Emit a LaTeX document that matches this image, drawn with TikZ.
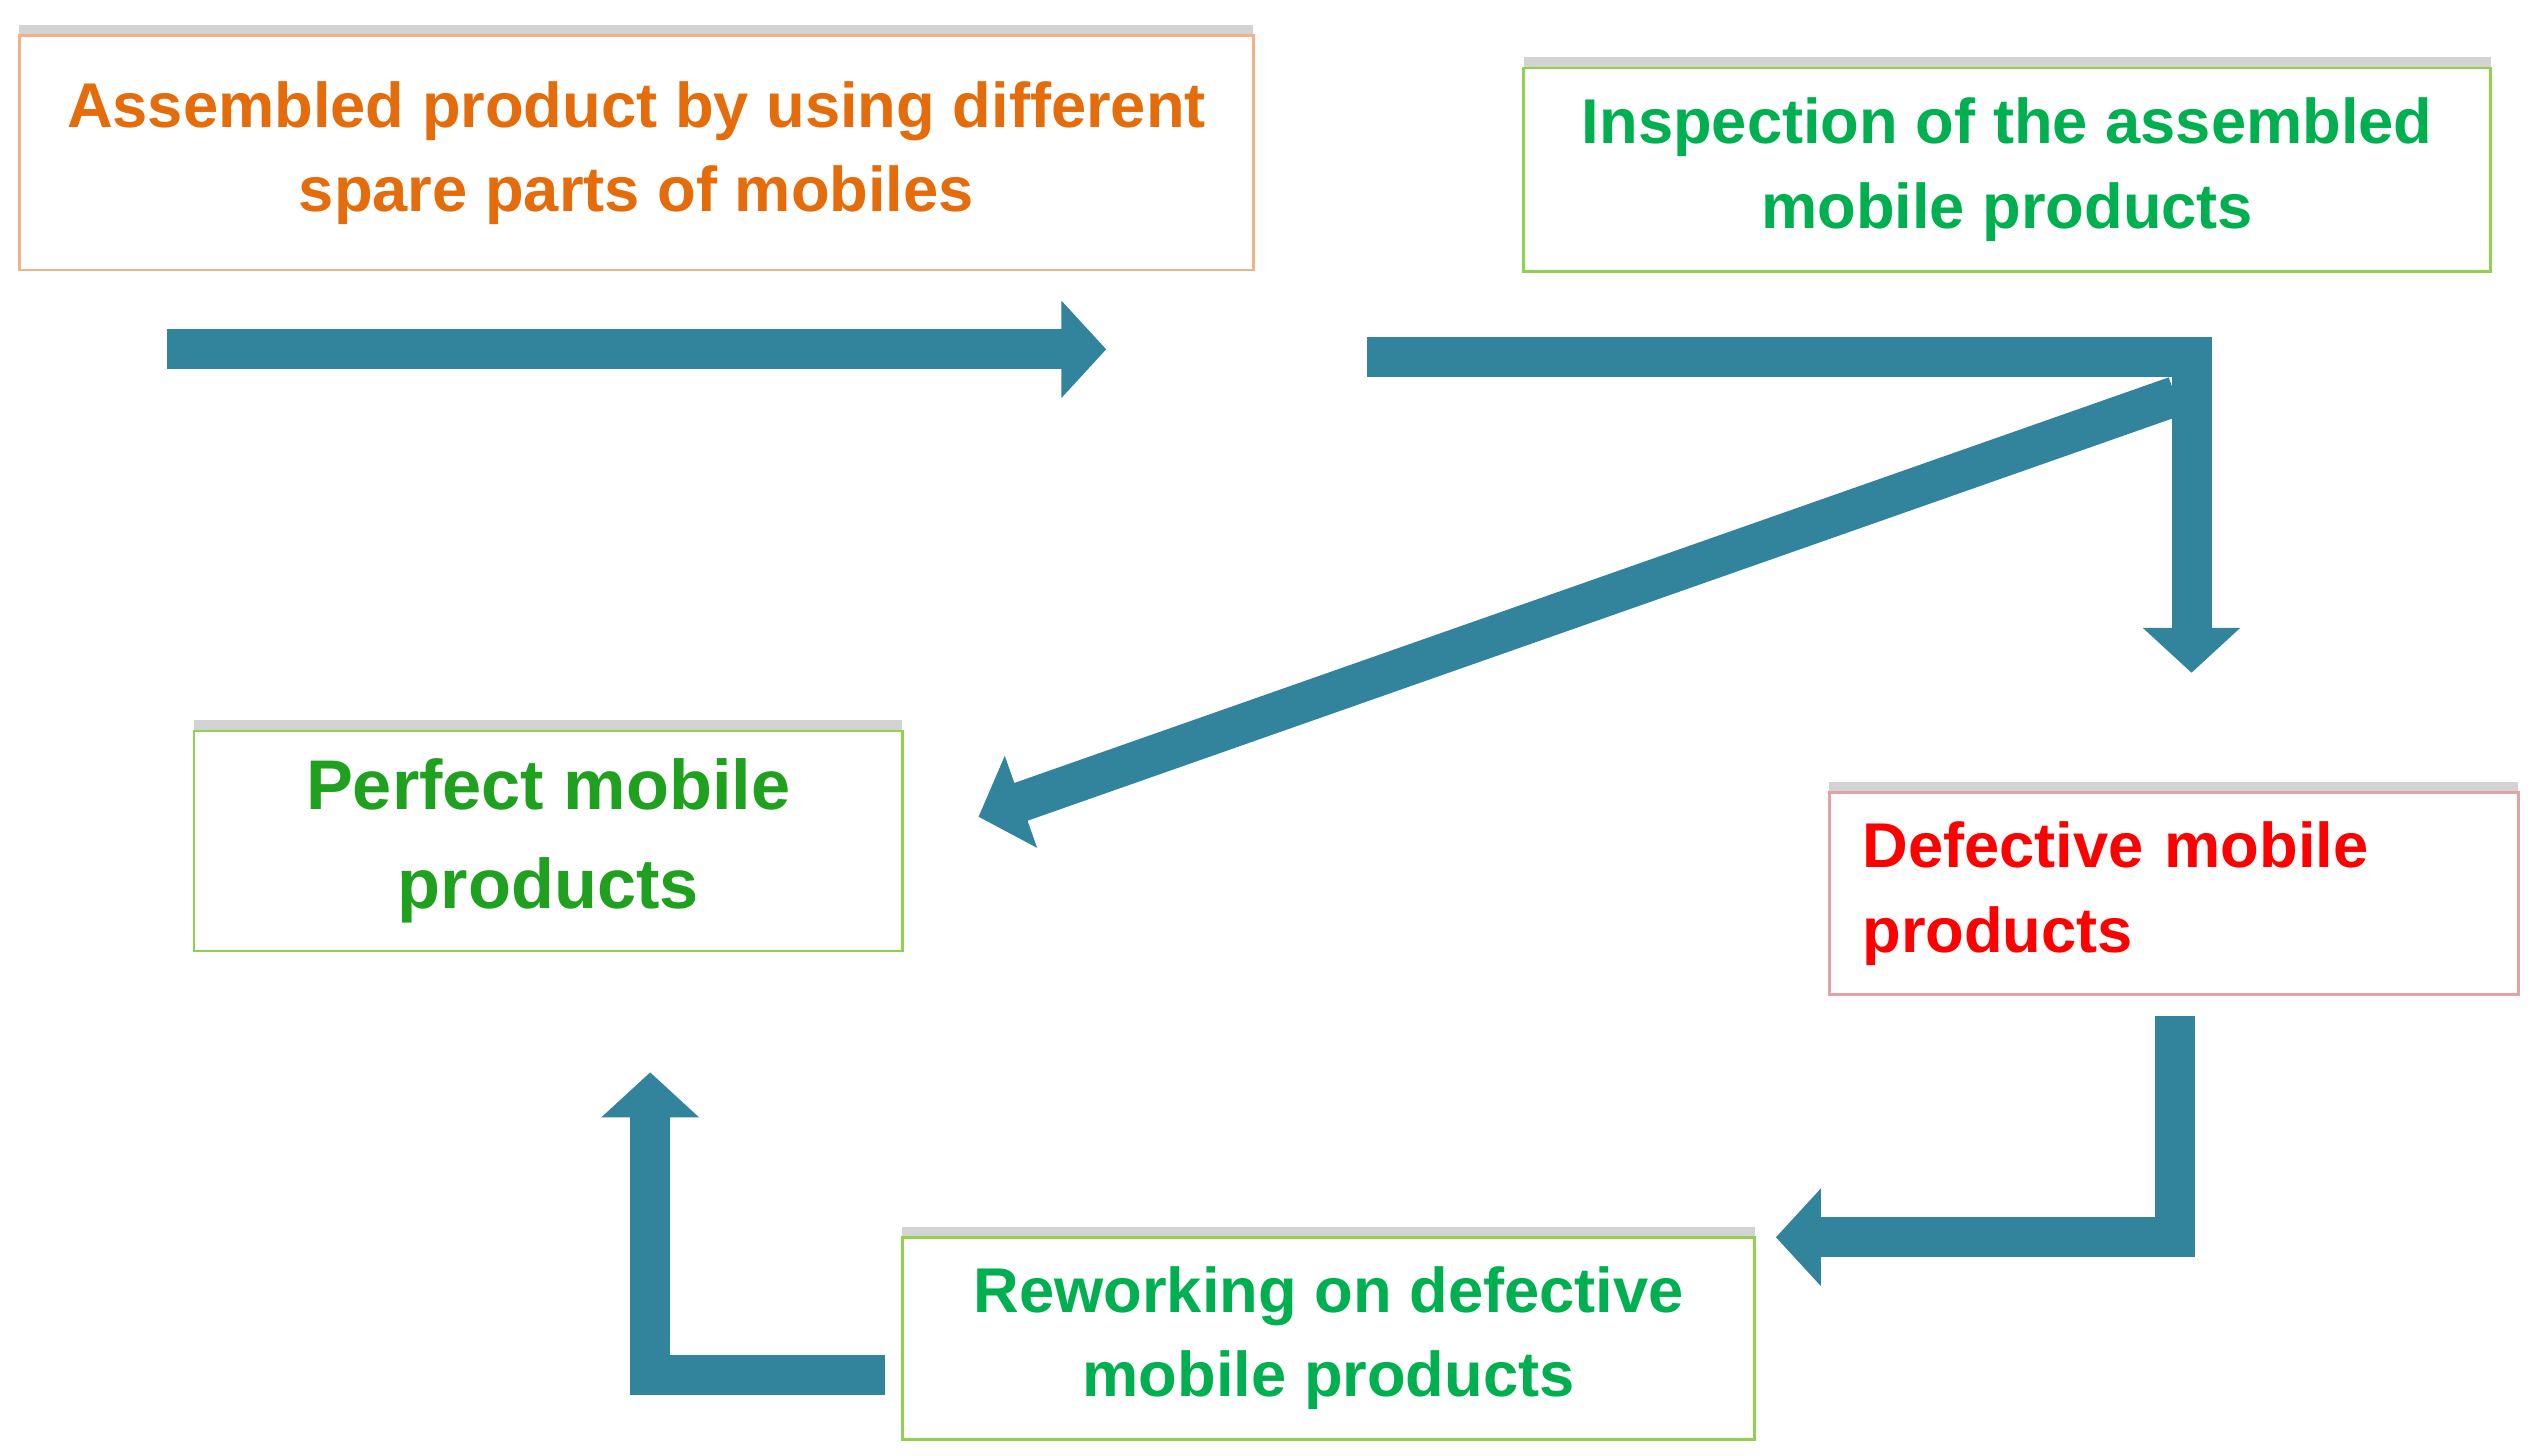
\documentclass[tikz,border=0pt]{standalone}
\usepackage{fontspec}
\setmainfont{Liberation Sans}
\usetikzlibrary{arrows.meta, shadows}
\definecolor{teal}{HTML}{31849B}
\definecolor{orangetxt}{HTML}{E46C0A}
\definecolor{orangeline}{HTML}{F4B183}
\definecolor{greentxt}{HTML}{00B050}
\definecolor{darkgreentxt}{HTML}{1FA01F}
\definecolor{greenline}{HTML}{92D050}
\definecolor{redtxt}{HTML}{FF0000}
\definecolor{redline}{HTML}{E6A0A8}

\begin{document}
\begin{tikzpicture}[x=0.01617cm, y=-0.01617cm,
        box/.style={rectangle, draw, fill=white, line width=0.8pt, align=center, inner sep=0pt,
            font=\fontsize{18}{24}\selectfont\bfseries,
            drop shadow={shadow xshift=0pt, shadow yshift=3pt, opacity=0.35}},
        flow/.style={teal, line width=0.4cm, -{Triangle[width=0.95cm,length=0.45cm]}}
    ]
        \useasboundingbox (0,0) rectangle (1568,900);
        % Boxes
        \node[box, draw=orangeline, text=orangetxt, minimum width=763*0.01617cm, minimum height=145*0.01617cm] (assembled) at (393.5,94.5) {Assembled product by using different\\spare parts of mobiles};
        \node[box, draw=greenline, text=greentxt, minimum width=598*0.01617cm, minimum height=126*0.01617cm] (inspection) at (1241,105) {Inspection of the assembled\\mobile products};
        \node[box, draw=greenline, text=darkgreentxt, font=\fontsize{20}{28}\selectfont\bfseries, minimum width=438*0.01617cm, minimum height=136*0.01617cm] (perfect) at (339,520) {Perfect mobile\\products};
        \node[box, draw=redline, text=redtxt, align=left, text width=385*0.01617cm, minimum width=426*0.01617cm, minimum height=125*0.01617cm] (defective) at (1344,552.5) {Defective mobile\\products};
        \node[box, draw=greenline, text=greentxt, minimum width=527*0.01617cm, minimum height=125*0.01617cm] (rework) at (821.5,827.5) {Reworking on defective\\mobile products};

        % Arrow ends
        \coordinate (a1) at (103,216);
        \coordinate (a2) at (684,216);
        \coordinate (i1) at (845,221);
        \coordinate (i2) at (1355,416);
        \coordinate (i3) at (1345,245);
        \coordinate (p1) at (605,505);
        \coordinate (d1) at (1345,628);
        \coordinate (d2) at (1098,765);
        \coordinate (r1) at (547,850);
        \coordinate (r2) at (402,663);

        % Arrows
        \draw[flow] (a1) -- (a2);
        \draw[flow] (i1) -- (i1 -| i2) -- (i2);
        \draw[flow] (i3) -- (p1);
        \draw[flow] (d1) -- (d1 |- d2) -- (d2);
        \draw[flow] (r1) -- (r1 -| r2) -- (r2);
    \end{tikzpicture}
\end{document}
